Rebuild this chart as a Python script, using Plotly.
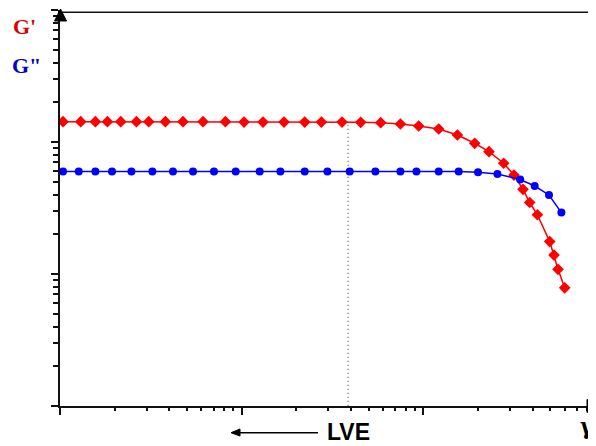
import plotly.graph_objects as go

# ---- data ----
strain_gp = [0.01039, 0.01300, 0.01566, 0.01824, 0.02159, 0.02634, 0.03078, 0.03802,
             0.04752, 0.06124, 0.08135, 0.1030, 0.1310, 0.1709, 0.2222, 0.2746,
             0.3565, 0.4518, 0.5821, 0.7472, 0.9422, 1.214, 1.539, 1.916, 2.296,
             2.766, 3.151, 3.533, 3.846, 4.241, 4.957, 5.235, 5.507, 5.993]
g_prime = [142.5, 142.5, 142.5, 142.5, 142.5, 142.5, 142.5, 142.5,
           142.5, 142.5, 142.5, 141.5, 141.5, 141.5, 141.5, 141.5,
           141.5, 141.0, 140.0, 136.9, 132.2, 125.5, 113.0, 97.8, 84.4,
           69.0, 56.2, 43.8, 34.8, 28.1, 17.6, 13.9, 10.85, 7.86]

strain_gpp = [0.01039, 0.01268, 0.01566, 0.01933, 0.02472, 0.03225, 0.04186, 0.05395,
              0.07040, 0.09268, 0.1256, 0.1633, 0.2222, 0.2963, 0.3930, 0.5442,
              0.7472, 0.9153, 1.214, 1.564, 1.998, 2.555, 3.410, 4.098, 4.912, 5.747]
g_double = [59.8, 59.8, 59.8, 59.8, 59.8, 59.8, 59.8, 59.8,
            59.8, 59.8, 59.8, 59.8, 59.8, 59.8, 59.8, 59.8,
            59.8, 59.8, 59.8, 59.8, 58.96, 57.2, 52.0, 46.4, 39.7, 29.2]

lve_strain = [0.385, 0.385]
lve_modulus = [135, 1]

x_major = [0.01, 0.1, 1]
x_minor = [m * d for d in (0.01, 0.1, 1) for m in range(2, 10)]
y_major = [1, 10, 100, 1000]
y_minor = [m * d for d in (1, 10, 100) for m in range(2, 10)]

# the page body adds an 8px offset, so the figure is 8px smaller than the window
OFF = 8
W, H = 596 - OFF, 446 - OFF
L, R, T, B = 60 - OFF, 0, 10 - OFF, 40
PW, PH = W - L - R, H - T - B


def px(x):  # window pixel -> paper fraction
    return (x - OFF - L) / PW


def py(y):
    return (H - B - (y - OFF)) / PH


fig = go.Figure()

fig.add_trace(go.Scatter(x=lve_strain, y=lve_modulus, mode="lines",
                         line=dict(color="#333333", width=1, dash="1px,3px"),
                         hoverinfo="skip", showlegend=False))
fig.add_trace(go.Scatter(x=strain_gp, y=g_prime, mode="lines+markers",
                         line=dict(color="#ff0000", width=1.5),
                         marker=dict(symbol="diamond", size=9, color="#ff0000"),
                         showlegend=False, name="G'"))
fig.add_trace(go.Scatter(x=strain_gpp, y=g_double, mode="lines+markers",
                         line=dict(color="#0000ff", width=1.5),
                         marker=dict(symbol="circle", size=8, color="#0000ff"),
                         showlegend=False, name='G"'))

axis_common = dict(type="log", showgrid=False, zeroline=False, showline=True,
                   linecolor="#111111", linewidth=1.5, ticks="outside",
                   tickcolor="#111111", tickwidth=1.5, showticklabels=False,
                   automargin=False)

fig.update_xaxes(**axis_common, range=[-2, -2 + PW / 181.7],
                 tickmode="array", tickvals=x_major, ticklen=7,
                 minor=dict(tickmode="array", tickvals=x_minor, ticks="outside",
                            ticklen=3, tickwidth=1.5, tickcolor="#111111",
                            showgrid=False))
fig.update_yaxes(**axis_common, range=[0, 3],
                 tickmode="array", tickvals=y_major, ticklen=7,
                 minor=dict(tickmode="array", tickvals=y_minor, ticks="outside",
                            ticklen=5, tickwidth=1.5, tickcolor="#111111",
                            showgrid=False))

shapes = [
    # top frame line
    dict(type="line", xref="paper", yref="paper", x0=0, x1=1.0,
         y0=py(12.3), y1=py(12.3), line=dict(color="#111111", width=1.5)),
    # y axis arrowhead
    dict(type="path", xref="paper", yref="paper",
         path=f"M {px(54.5)} {py(21)} L {px(60.5)} {py(9)} L {px(66.5)} {py(21)} Z",
         fillcolor="#000000", line=dict(color="#000000", width=1)),
    # x axis arrowhead (cut by the right edge, as in the reference)
    dict(type="path", xref="paper", yref="paper",
         path=f"M {px(587)} {py(399.5)} L {px(598)} {py(406)} L {px(587)} {py(412.5)} Z",
         fillcolor="#000000", line=dict(color="#000000", width=1)),
    # LVE arrow shaft
    dict(type="line", xref="paper", yref="paper", x0=px(238), x1=px(318),
         y0=py(432.7), y1=py(432.7), line=dict(color="#000000", width=1.5)),
    # LVE arrow head
    dict(type="path", xref="paper", yref="paper",
         path=f"M {px(231)} {py(432.7)} L {px(240)} {py(429)} L {px(240)} {py(436)} Z",
         fillcolor="#000000", line=dict(color="#000000", width=1)),
]

annotations = [
    dict(text="<b>G'</b>", x=px(24), y=py(26.5), xref="paper", yref="paper",
         xanchor="center", yanchor="middle", showarrow=False,
         font=dict(family="Liberation Serif", size=22, color="#dd0000")),
    dict(text='<b>G"</b>', x=px(26.5), y=py(65.5), xref="paper", yref="paper",
         xanchor="center", yanchor="middle", showarrow=False,
         font=dict(family="Liberation Serif", size=22, color="#0000cc")),
    dict(text="<b>LVE</b>", x=px(348.5), y=py(432), xref="paper", yref="paper",
         xanchor="center", yanchor="middle", showarrow=False,
         font=dict(family="Liberation Sans", size=23, color="#000000")),
    dict(text="<b>γ</b>", x=px(587), y=py(426), xref="paper", yref="paper",
         xanchor="center", yanchor="middle", showarrow=False,
         font=dict(family="DejaVu Serif", size=22, color="#000000")),
]

fig.update_layout(width=W, height=H,
                  margin=dict(l=L, r=R, t=T, b=B, autoexpand=False),
                  plot_bgcolor="white", paper_bgcolor="white",
                  shapes=shapes, annotations=annotations, showlegend=False)

fig.write_html("out.html")
